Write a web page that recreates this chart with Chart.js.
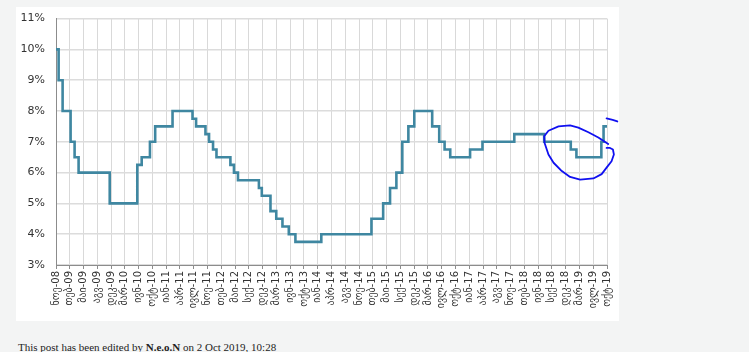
<!DOCTYPE html>
<html>
<head>
<meta charset="utf-8">
<script src="https://cdn.jsdelivr.net/npm/chart.js@4/dist/chart.umd.min.js"></script>
<style>
	body { margin: 0; background: #f3f4f4; width: 749px; height: 352px; overflow: hidden; position: relative; }
	#box { position: absolute; left: 16px; top: 7px; width: 603px; height: 314px; background: #fff; }
	#canvas_rate { position: absolute; left: 0; top: -6px; }
	#note { position: absolute; left: 18px; top: 341px; font: 11px "Liberation Serif", serif; color: #222; white-space: nowrap; }
</style>
</head>
<body>
<div id="box"><canvas id="canvas_rate" width="605" height="320"></canvas></div>
<div id="note">This post has been edited by <b>N.e.o.N</b> on 2 Oct 2019, 10:28</div>
<script>
// tick labels (every 100 days, Nov 2008 - Oct 2019)
var xLabels = [ "ნოე-08", "თებ-09", "მაი-09", "აგვ-09", "დეკ-09", "მარ-10", "ივნ-10",
		"ოქტ-10", "იან-11", "აპრ-11", "ივლ-11", "ნოე-11", "თებ-12", "მაი-12", "სექ-12",
		"დეკ-12", "მარ-13", "ივნ-13", "ოქტ-13", "იან-14", "აპრ-14", "აგვ-14", "ნოე-14",
		"თებ-15", "მაი-15", "სექ-15", "დეკ-15", "მარ-16", "ივლ-16", "ოქტ-16", "იან-17",
		"აპრ-17", "აგვ-17", "ნოე-17", "თებ-18", "ივნ-18", "სექ-18", "დეკ-18", "მარ-19",
		"ივლ-19", "ოქტ-19" ];

// policy rate changes: position in tick units, new rate (%)
var stepX = [ 0, 0.19, 0.48, 1.06, 1.35, 1.64, 3.9, 5.9, 6.22, 6.82, 7.2, 8.46, 9.91,
		10.17, 10.85, 11.11, 11.4, 11.65, 12.66, 12.92, 13.21, 14.73, 14.94, 15.57, 15.99,
		16.44, 16.9, 17.38, 19.26, 22.9, 23.75, 24.25, 24.71, 25.14, 25.58, 26.01, 27.31,
		27.82, 28.21, 28.62, 30.06, 30.96, 33.27, 35.44, 37.37, 37.78, 39.59, 39.75, 40 ];
var rates = [ 10, 9, 8, 7, 6.5, 6, 5, 6.25, 6.5, 7, 7.5, 8, 7.75, 7.5, 7.25, 7, 6.75, 6.5,
		6.25, 6, 5.75, 5.5, 5.25, 4.75, 4.5, 4.25, 4, 3.75, 4, 4.5, 5, 5.5, 6, 7, 7.5, 8,
		7.5, 7, 6.75, 6.5, 6.75, 7, 7.25, 7, 6.75, 6.5, 7, 7.5, 7.5 ];

// hand drawn circle on top of the chart (x in tick units, y in %)
var circleX = [ 40.09, 39.37, 38.65, 37.92, 37.32, 36.48, 35.75, 35.44, 35.47, 35.75,
		36.12, 36.72, 37.32, 38.05, 39.01, 39.61, 39.97, 40.33, 40.5, 40.43, 40.22, 39.97 ];
var circleY = [ 6.93, 7.14, 7.31, 7.46, 7.53, 7.5, 7.36, 7.18, 6.96, 6.59, 6.32, 6.05,
		5.86, 5.77, 5.81, 5.95, 6.16, 6.37, 6.59, 6.75, 6.8, 6.8 ];
var dashX = [ 39.97, 40.41, 40.75 ];
var dashY = [ 7.76, 7.71, 7.66 ];

var penPlugin = {
	id : "pen",
	afterDraw : function(chart) {
		var ctx = chart.ctx, xs = chart.scales.x, ys = chart.scales.y;
		function stroke(px, py) {
			ctx.beginPath();
			for (var i = 0; i < px.length; i++) {
				var a = xs.getPixelForValue(px[i]), b = ys.getPixelForValue(py[i]);
				if (i == 0) ctx.moveTo(a, b); else ctx.lineTo(a, b);
			}
			ctx.stroke();
		}
		ctx.save();
		ctx.strokeStyle = "#1010f0";
		ctx.lineWidth = 1.8;
		ctx.lineJoin = "round";
		ctx.lineCap = "round";
		stroke(circleX, circleY);
		stroke(dashX, dashY);
		ctx.restore();
	}
};

var points = [];
for (var i = 0; i < stepX.length; i++) {
	points.push({ x : stepX[i], y : rates[i] });
}

var rateChart = new Chart(document.getElementById("canvas_rate"), {
	type : "line",
	data : {
		datasets : [ {
			data : points,
			stepped : "before",
			borderColor : "#3f87a1",
			borderWidth : 2.6,
			pointRadius : 0,
			fill : false
		} ]
	},
	options : {
		responsive : false,
		animation : false,
		layout : { padding : { top : 2, right : 0, left : 0, bottom : 0 } },
		plugins : { legend : { display : false }, tooltip : { enabled : false } },
		scales : {
			x : {
				type : "linear",
				min : 0,
				max : 40,
				afterFit : function(s) { s.height = 56; },
				ticks : {
					stepSize : 1,
					autoSkip : false,
					maxRotation : 90,
					minRotation : 90,
					padding : 2,
					color : "#333",
					font : { family : "DejaVu Sans", size : 10 },
					callback : function(v) { return xLabels[v]; }
				},
				grid : { color : "#d9d9d9", tickLength : 4, tickColor : "#8c8c8c" },
				border : { color : "#8c8c8c" }
			},
			y : {
				min : 3,
				max : 11,
				afterFit : function(s) { s.width = 40; },
				ticks : {
					stepSize : 1,
					padding : 11,
					color : "#333",
					font : { family : "DejaVu Sans", size : 11 },
					callback : function(v) { return v + "%"; }
				},
				grid : { color : "#dcdcdc", lineWidth : 1.5, drawTicks : false },
				border : { color : "#8c8c8c" }
			}
		}
	},
	plugins : [ penPlugin ]
});
</script>
</body>
</html>
